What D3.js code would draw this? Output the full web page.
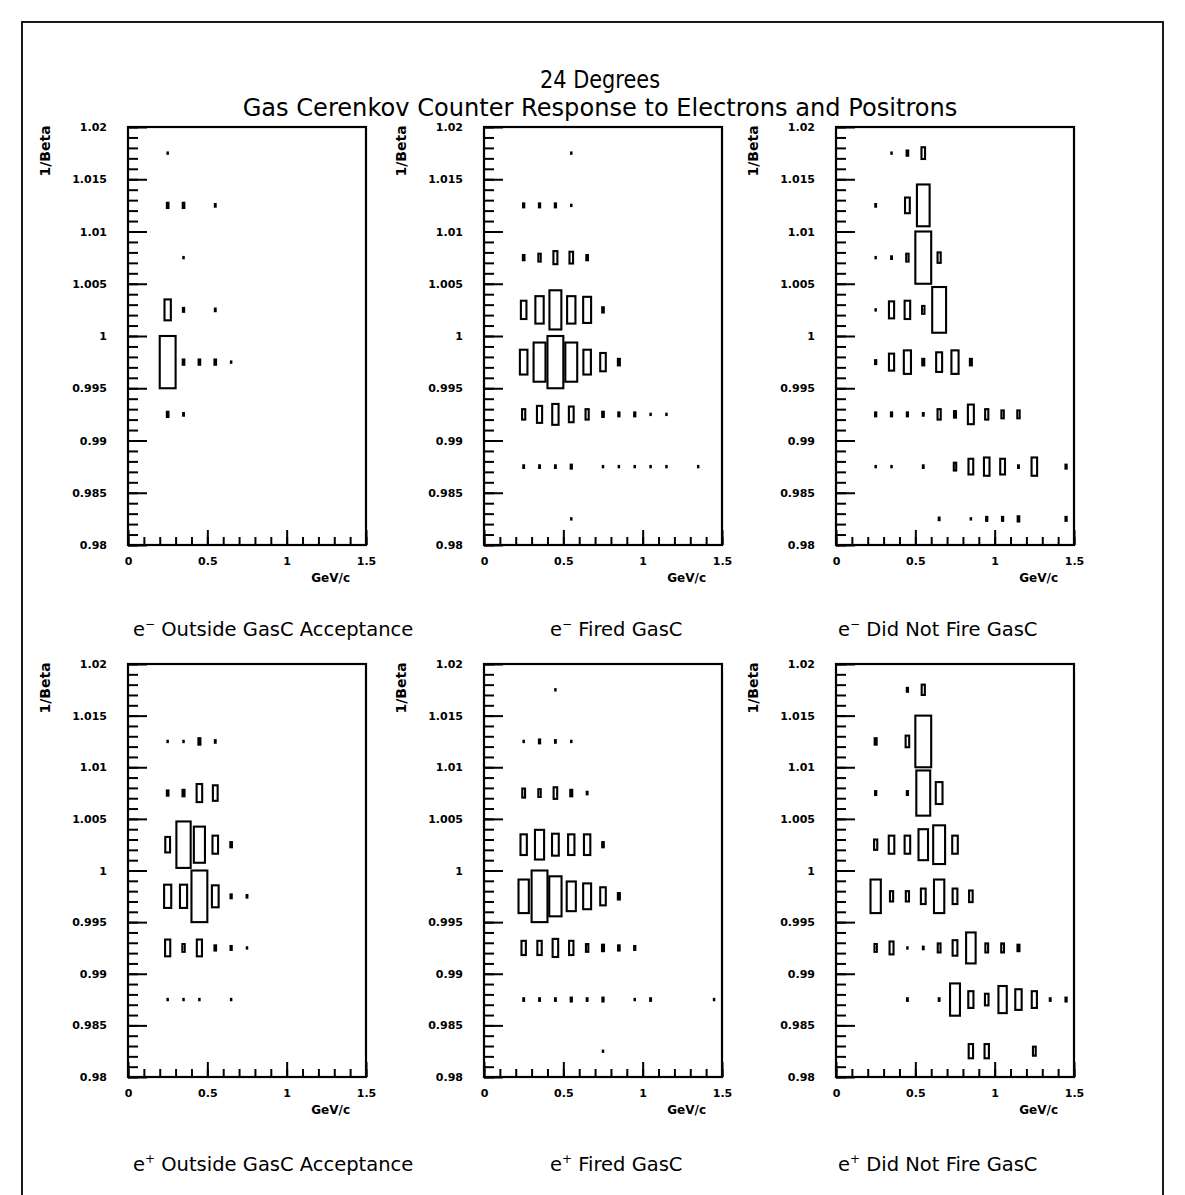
<!DOCTYPE html>
<html>
<head>
<meta charset="utf-8">
<script src="https://cdn.jsdelivr.net/npm/d3@7"></script>
<style>
  body { margin: 0; background: #fff; }
  svg { display: block; }
</style>
</head>
<body>
<svg id="chart" width="1185" height="1195"></svg>
<script>
// Each cell: [p bin centre (GeV/c), 1/beta bin centre, entries]
const eMinusOutside = [
  [0.25, 1.0175, 1],
  [0.25, 1.0125, 4], [0.35, 1.0125, 4], [0.55, 1.0125, 2],
  [0.35, 1.0075, 1],
  [0.25, 1.0025, 16], [0.35, 1.0025, 3], [0.55, 1.0025, 2],
  [0.25, 0.9975, 40], [0.35, 0.9975, 4], [0.45, 0.9975, 4], [0.55, 0.9975, 4], [0.65, 0.9975, 1],
  [0.25, 0.9925, 4], [0.35, 0.9925, 2]
];

const eMinusFired = [
  [0.55, 1.0175, 1],
  [0.25, 1.0125, 3], [0.35, 1.0125, 3], [0.45, 1.0125, 3], [0.55, 1.0125, 1],
  [0.25, 1.0075, 4], [0.35, 1.0075, 6], [0.45, 1.0075, 10], [0.55, 1.0075, 9], [0.65, 1.0075, 4],
  [0.25, 1.0025, 14], [0.35, 1.0025, 21], [0.45, 1.0025, 30], [0.55, 1.0025, 21], [0.65, 1.0025, 20], [0.75, 1.0025, 4],
  [0.25, 0.9975, 19], [0.35, 0.9975, 30], [0.45, 0.9975, 40], [0.55, 0.9975, 30], [0.65, 0.9975, 19], [0.75, 0.9975, 14], [0.85, 0.9975, 5],
  [0.25, 0.9925, 8], [0.35, 0.9925, 13], [0.45, 0.9925, 16], [0.55, 0.9925, 12], [0.65, 0.9925, 8], [0.75, 0.9925, 4], [0.85, 0.9925, 3], [0.95, 0.9925, 3], [1.05, 0.9925, 1], [1.15, 0.9925, 1],
  [0.25, 0.9875, 2], [0.35, 0.9875, 2], [0.45, 0.9875, 2], [0.55, 0.9875, 3], [0.75, 0.9875, 1], [0.85, 0.9875, 1], [0.95, 0.9875, 1], [1.05, 0.9875, 1], [1.15, 0.9875, 1], [1.35, 0.9875, 1],
  [0.55, 0.9825, 1]
];

const eMinusNoFire = [
  [0.35, 1.0175, 1], [0.45, 1.0175, 4], [0.55, 1.0175, 9],
  [0.25, 1.0125, 2], [0.45, 1.0125, 12], [0.55, 1.0125, 32],
  [0.25, 1.0075, 1], [0.35, 1.0075, 2], [0.45, 1.0075, 6], [0.55, 1.0075, 40], [0.65, 1.0075, 8],
  [0.25, 1.0025, 1], [0.35, 1.0025, 13], [0.45, 1.0025, 14], [0.55, 1.0025, 6], [0.65, 1.0025, 35],
  [0.25, 0.9975, 3], [0.35, 0.9975, 13], [0.45, 0.9975, 18], [0.55, 0.9975, 5], [0.65, 0.9975, 15], [0.75, 0.9975, 18], [0.85, 0.9975, 5],
  [0.25, 0.9925, 3], [0.35, 0.9925, 3], [0.45, 0.9925, 3], [0.55, 0.9925, 2], [0.65, 0.9925, 8], [0.75, 0.9925, 5], [0.85, 0.9925, 15], [0.95, 0.9925, 8], [1.05, 0.9925, 6], [1.15, 0.9925, 6],
  [0.25, 0.9875, 1], [0.35, 0.9875, 1], [0.55, 0.9875, 2], [0.75, 0.9875, 6], [0.85, 0.9875, 12], [0.95, 0.9875, 14], [1.05, 0.9875, 12], [1.15, 0.9875, 2], [1.25, 0.9875, 14], [1.45, 0.9875, 3],
  [0.65, 0.9825, 2], [0.85, 0.9825, 1], [0.95, 0.9825, 3], [1.05, 0.9825, 3], [1.15, 0.9825, 4], [1.45, 0.9825, 3]
];

const ePlusOutside = [
  [0.25, 1.0125, 1], [0.35, 1.0125, 1], [0.45, 1.0125, 5], [0.55, 1.0125, 2],
  [0.25, 1.0075, 4], [0.35, 1.0075, 5], [0.45, 1.0075, 14], [0.55, 1.0075, 12],
  [0.25, 1.0025, 12], [0.35, 1.0025, 36], [0.45, 1.0025, 28], [0.55, 1.0025, 14], [0.65, 1.0025, 4],
  [0.25, 0.9975, 18], [0.35, 0.9975, 18], [0.45, 0.9975, 40], [0.55, 0.9975, 17], [0.65, 0.9975, 3], [0.75, 0.9975, 2],
  [0.25, 0.9925, 13], [0.35, 0.9925, 6], [0.45, 0.9925, 13], [0.55, 0.9925, 4], [0.65, 0.9925, 3], [0.75, 0.9925, 1],
  [0.25, 0.9875, 1], [0.35, 0.9875, 1], [0.45, 0.9875, 1], [0.65, 0.9875, 1]
];

const ePlusFired = [
  [0.45, 1.0175, 1],
  [0.25, 1.0125, 1], [0.35, 1.0125, 3], [0.45, 1.0125, 2], [0.55, 1.0125, 1],
  [0.25, 1.0075, 7], [0.35, 1.0075, 6], [0.45, 1.0075, 9], [0.55, 1.0075, 5], [0.65, 1.0075, 2],
  [0.25, 1.0025, 16], [0.35, 1.0025, 23], [0.45, 1.0025, 17], [0.55, 1.0025, 16], [0.65, 1.0025, 16], [0.75, 1.0025, 4],
  [0.25, 0.9975, 26], [0.35, 0.9975, 40], [0.45, 0.9975, 31], [0.55, 0.9975, 23], [0.65, 0.9975, 20], [0.75, 0.9975, 14], [0.85, 0.9975, 5],
  [0.25, 0.9925, 11], [0.35, 0.9925, 11], [0.45, 0.9925, 14], [0.55, 0.9925, 11], [0.65, 0.9925, 6], [0.75, 0.9925, 5], [0.85, 0.9925, 4], [0.95, 0.9925, 3],
  [0.25, 0.9875, 2], [0.35, 0.9875, 2], [0.45, 0.9875, 2], [0.55, 0.9875, 3], [0.65, 0.9875, 2], [0.75, 0.9875, 3], [0.95, 0.9875, 1], [1.05, 0.9875, 2], [1.45, 0.9875, 1],
  [0.75, 0.9825, 1]
];

const ePlusNoFire = [
  [0.45, 1.0175, 3], [0.55, 1.0175, 8],
  [0.25, 1.0125, 5], [0.45, 1.0125, 9], [0.55, 1.0125, 40],
  [0.25, 1.0075, 3], [0.45, 1.0075, 3], [0.55, 1.0075, 35], [0.65, 1.0075, 17],
  [0.25, 1.0025, 8], [0.35, 1.0025, 14], [0.45, 1.0025, 14], [0.55, 1.0025, 24], [0.65, 1.0025, 30], [0.75, 1.0025, 14],
  [0.25, 0.9975, 26], [0.35, 0.9975, 8], [0.45, 0.9975, 8], [0.55, 0.9975, 12], [0.65, 0.9975, 26], [0.75, 0.9975, 12], [0.85, 0.9975, 9],
  [0.25, 0.9925, 6], [0.35, 0.9925, 10], [0.45, 0.9925, 1], [0.55, 0.9925, 2], [0.65, 0.9925, 7], [0.75, 0.9925, 12], [0.85, 0.9925, 24], [0.95, 0.9925, 7], [1.05, 0.9925, 7], [1.15, 0.9925, 5],
  [0.45, 0.9875, 2], [0.65, 0.9875, 2], [0.75, 0.9875, 25], [0.85, 0.9875, 13], [0.95, 0.9875, 9], [1.05, 0.9875, 21], [1.15, 0.9875, 16], [1.25, 0.9875, 13], [1.35, 0.9875, 2], [1.45, 0.9875, 3],
  [0.85, 0.9825, 11], [0.95, 0.9825, 11], [1.25, 0.9825, 7]
];

const betaTicks = [0.98, 0.985, 0.99, 0.995, 1, 1.005, 1.01, 1.015, 1.02];
const pTicks = [0, 0.5, 1, 1.5];
const titleLines = ["24 Degrees", "Gas Cerenkov Counter Response to Electrons and Positrons"];
const captions = [
  ["e", "\u2212", " Outside GasC Acceptance"],
  ["e", "\u2212", " Fired GasC"],
  ["e", "\u2212", " Did Not Fire GasC"],
  ["e", "+", " Outside GasC Acceptance"],
  ["e", "+", " Fired GasC"],
  ["e", "+", " Did Not Fire GasC"]
];
const datasets = [eMinusOutside, eMinusFired, eMinusNoFire, ePlusOutside, ePlusFired, ePlusNoFire];

const P_BIN = 0.1, BETA_BIN = 0.005;
const P_DOMAIN = [0, 1.5], BETA_DOMAIN = [0.98, 1.02];

// frame geometry
const FRAME_W = 238;
const colLeft = [128, 484, 836];
const rowBox = [{ top: 127, bottom: 545 }, { top: 664, bottom: 1077 }];
const captionX = [133, 550, 838];
const captionY = [636, 1171];

const svg = d3.select("#chart");
const INK = "#000";
const labelFont = "'DejaVu Sans', sans-serif";

// page border
svg.append("rect")
  .attr("x", 22).attr("y", 22).attr("width", 1141).attr("height", 1200)
  .attr("fill", "none").attr("stroke", INK).attr("stroke-width", 1.8);

// scale a text element's font so it spans a given width
function fitWidth(sel, width, base) {
  const len = sel.node().getComputedTextLength();
  sel.attr("font-size", base * width / len);
}

const t2 = svg.append("text").attr("x", 600).attr("y", 116).attr("text-anchor", "middle")
  .attr("font-family", labelFont).attr("font-size", 20).text(titleLines[1]);
fitWidth(t2, 715, 20);
svg.append("text").attr("x", 600).attr("y", 88).attr("text-anchor", "middle")
  .attr("font-family", labelFont).attr("font-size", t2.attr("font-size"))
  .attr("textLength", 120).attr("lengthAdjust", "spacingAndGlyphs")
  .text(titleLines[0]);

const fmt = d => String(+d.toFixed(3));

datasets.forEach((cells, i) => {
  const col = i % 3, row = Math.floor(i / 3);
  const left = colLeft[col], right = left + FRAME_W;
  const { top, bottom } = rowBox[row];

  const x = d3.scaleLinear().domain(P_DOMAIN).range([left, right]);
  const y = d3.scaleLinear().domain(BETA_DOMAIN).range([bottom, top]);
  const g = svg.append("g");

  // minor and major ticks on the left and bottom axes (pointing inward)
  const yMinor = g.append("g").attr("transform", `translate(${left},0)`)
    .call(d3.axisLeft(y).ticks(40).tickSize(-10).tickFormat(""));
  const yMajor = g.append("g").attr("transform", `translate(${left},0)`)
    .call(d3.axisLeft(y).tickValues(betaTicks).tickSize(-19).tickPadding(21).tickFormat(fmt));
  const xMinor = g.append("g").attr("transform", `translate(0,${bottom})`)
    .call(d3.axisBottom(x).ticks(15).tickSize(-8).tickFormat(""));
  const xMajor = g.append("g").attr("transform", `translate(0,${bottom})`)
    .call(d3.axisBottom(x).tickValues(pTicks).tickSize(-15).tickPadding(12).tickFormat(fmt));

  [yMinor, yMajor, xMinor, xMajor].forEach(a => {
    a.select(".domain").remove();
    a.selectAll(".tick line").attr("stroke", INK).attr("stroke-width", 2);
    a.selectAll(".tick text").attr("fill", INK)
      .attr("font-family", labelFont).attr("font-weight", "bold").attr("font-size", 11);
  });

  // frame
  g.append("rect")
    .attr("x", left).attr("y", top).attr("width", right - left).attr("height", bottom - top)
    .attr("fill", "none").attr("stroke", INK).attr("stroke-width", 2.2);

  // box cells: each side scaled by entries / max entries
  const maxN = d3.max(cells, d => d[2]);
  const half = (bin, n) => bin / 2 * n / maxN;
  g.append("g").selectAll("rect").data(cells).join("rect")
    .attr("x", d => x(d[0] - half(P_BIN, d[2])))
    .attr("width", d => x(d[0] + half(P_BIN, d[2])) - x(d[0] - half(P_BIN, d[2])))
    .attr("y", d => y(d[1] + half(BETA_BIN, d[2])))
    .attr("height", d => y(d[1] - half(BETA_BIN, d[2])) - y(d[1] + half(BETA_BIN, d[2])))
    .attr("fill", "none").attr("stroke", INK).attr("stroke-width", 2.1);

  // axis titles
  g.append("text")
    .attr("transform", `translate(${left - 78},${top + 24}) rotate(-90)`)
    .attr("text-anchor", "middle")
    .attr("font-family", labelFont).attr("font-weight", "bold").attr("font-size", 14)
    .text("1/Beta");
  g.append("text")
    .attr("x", right - 16).attr("y", bottom + 37).attr("text-anchor", "end")
    .attr("font-family", labelFont).attr("font-weight", "bold").attr("font-size", 12)
    .text("GeV/c");

  // panel caption
  const c = captions[i];
  const cap = svg.append("text").attr("x", captionX[col]).attr("y", captionY[row])
    .attr("font-family", labelFont).attr("font-size", 19.5);
  cap.append("tspan").text(c[0]);
  cap.append("tspan").attr("dy", -8).attr("font-size", 12).text(c[1]);
  cap.append("tspan").attr("dy", 8).text(c[2]);
});
</script>
</body>
</html>
